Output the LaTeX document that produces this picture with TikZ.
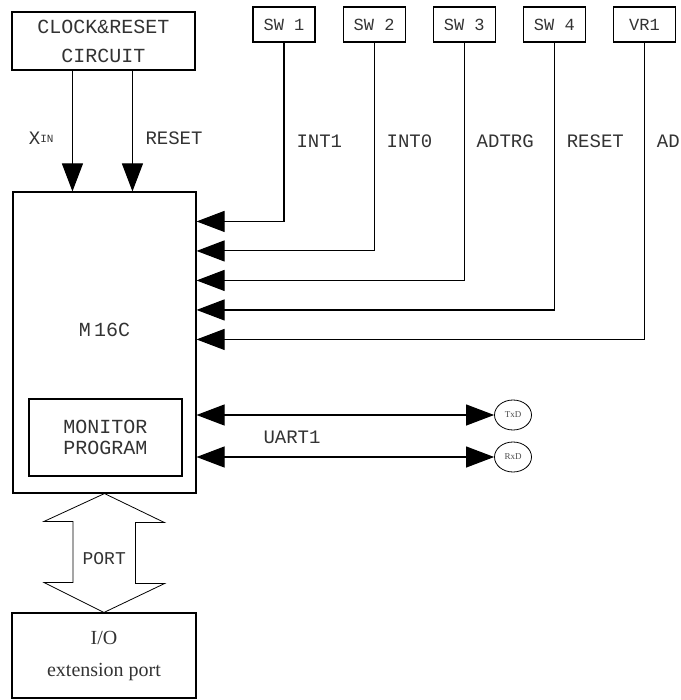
\documentclass[tikz,border=0pt]{standalone}
\usepackage{fontspec}
\setmainfont{Liberation Serif}
\newfontfamily\monofont{Liberation Mono}
\usetikzlibrary{arrows.meta,positioning,calc,shapes.geometric}
\tikzset{
  block/.style={rectangle,draw,line width=1.1pt,inner sep=0pt,align=center,text=black!80,font=\monofont\fontsize{20}{29}\selectfont},
  swbox/.style={block,minimum width=62pt,minimum height=35pt,font=\monofont\fontsize{17}{20}\selectfont},
  pin/.style={ellipse,draw,line width=0.8pt,minimum width=37pt,minimum height=30pt,inner sep=0pt,text=black!70,font=\fontsize{9}{10}\selectfont},
  sig/.style={text=black!80,font=\monofont\fontsize{19}{20}\selectfont},
  wire/.style={line width=1.1pt,-{Triangle[length=28pt,width=21pt]}},
  bus/.style={line width=1.1pt,{Triangle[length=28pt,width=21pt]}-{Triangle[length=28pt,width=21pt]}},
}

\begin{document}
\begin{tikzpicture}[x=1pt,y=-1pt]
  \useasboundingbox (0,0) rectangle (680,700);
  % main blocks
  \node[block,minimum width=183pt,minimum height=58pt] (clk) at (103.5,41) {CLOCK\&RESET\\CIRCUIT};
  \node[block,minimum width=183pt,minimum height=301pt,
        label={[sig,font=\monofont\fontsize{20}{20}\selectfont,yshift=12.5pt]center:M\,16C}] (mcu) at (104.5,342.5) {};
  \node[block,minimum width=153pt,minimum height=77pt,font=\monofont\fontsize{20}{21}\selectfont] (mon) at (105.5,437.5) {MONITOR\\PROGRAM};
  \node[block,minimum width=184pt,minimum height=85pt,font=\fontsize{20}{32}\selectfont] (io) at (104,655.5) {I/O\\extension port};
  % switches
  \node[swbox] (sw1) at (284,24.5) {SW 1};
  \node[swbox,right=27pt of sw1] (sw2) {SW 2};
  \node[swbox,right=27pt of sw2] (sw3) {SW 3};
  \node[swbox,right=27pt of sw3] (sw4) {SW 4};
  \node[swbox,right=27pt of sw4] (vr1) {VR1};
  \foreach \s/\dy/\lab in {sw1/30/INT1,sw2/59.5/INT0,sw3/89/ADTRG,sw4/118.5/RESET,vr1/148/AD}{
    \draw[wire] (\s.south) |- ($(mcu.north east)+(0,\dy)$);
    \node[sig,anchor=west] (lab-\s) at ($(\s.south)+(9,99)$) {\lab};
  }
  % clock and reset
  \coordinate (xin) at ($(clk.south west)+(61,0)$);
  \coordinate (rst) at ($(clk.south west)+(121,0)$);
  \draw[wire] (xin) -- (xin |- mcu.north);
  \draw[wire] (rst) -- (rst |- mcu.north);
  \node[sig,anchor=east] (lab-xin) at (57,138) {X\raisebox{1.5pt}{\fontsize{11}{11}\selectfont IN}};
  \node[sig,anchor=west] (lab-rst) at (142,138) {RESET};
  % uart
  \node[pin] (txd) at (513,415) {TxD};
  \node[pin] (rxd) at (513,457) {RxD};
  \draw[bus] (mcu.east |- txd) -- (txd.west);
  \draw[bus] (mcu.east |- rxd) -- (rxd.west);
  \node[sig] (uart) at (292,437) {UART1};
  % port
  \draw[line width=0.8pt] (mcu.south) -- ++(60,29) -- ++(-29,0) -- ++(0,61) -- ++(29,0) -- (io.north)
    -- ++(-60,-30) -- ++(29,0) -- ++(0,-61) -- ++(-29,0) -- cycle;
  \node[sig,font=\monofont\fontsize{18}{20}\selectfont] (port) at ($(mcu.south)!0.5!(io.north)+(0,6)$) {PORT};
\end{tikzpicture}
\end{document}
